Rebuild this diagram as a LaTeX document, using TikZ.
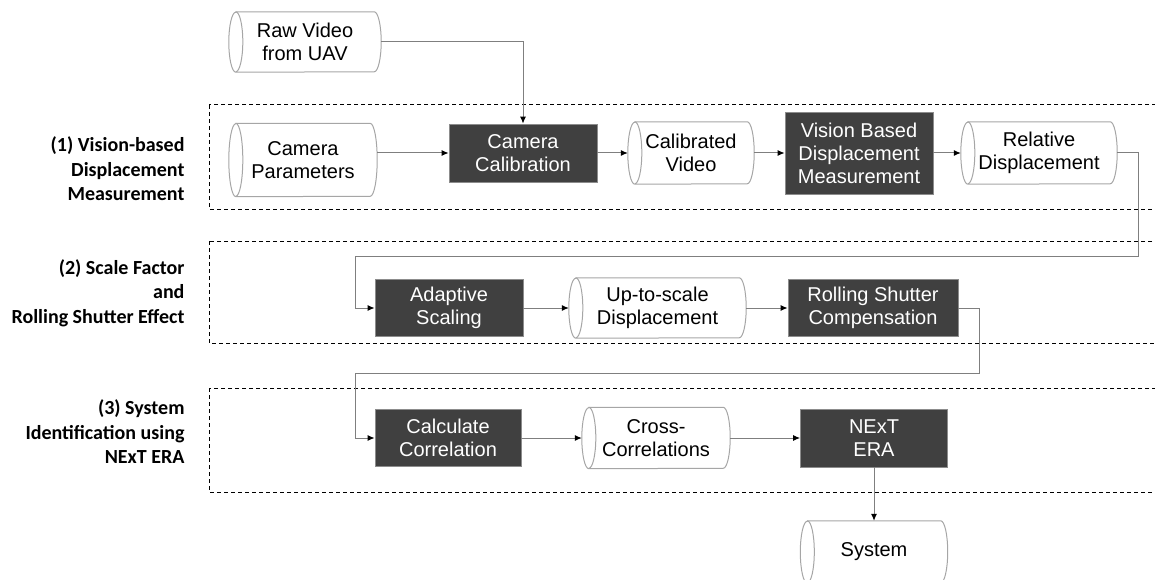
\documentclass[tikz,border=0pt]{standalone}
\usepackage{fontspec}
\setmainfont{Liberation Sans}
\newfontfamily\labfont{Carlito}
\usetikzlibrary{arrows.meta}
\definecolor{darkbox}{HTML}{404040}
\definecolor{boxedge}{HTML}{8C8C8C}
\definecolor{cyledge}{HTML}{A6A6A6}
\definecolor{linegray}{HTML}{7F7F7F}
\pgfdeclarelayer{bg}
\pgfsetlayers{bg,main}
\tikzset{
  procbox/.style={draw=boxedge, fill=darkbox, text=white, inner sep=0pt, align=center,
    font=\fontsize{20}{23}\selectfont, line width=0.8pt},
  cylnode/.style={inner sep=0pt, align=center, font=\fontsize{20}{23}\selectfont},
  conn/.style={draw=linegray, line width=1pt, -{Latex[length=7pt,width=6pt,black]}},
  groupbox/.style={draw=black, dash pattern=on 4pt off 3pt, line width=1pt},
  grouplabel/.style={anchor=east, align=right, font=\labfont\bfseries\fontsize{20}{24.5}\selectfont},
  cylline/.style={draw=cyledge, fill=white, line width=1pt}
}
\newcommand\drawcyl[2]{%
  \begin{pgfonlayer}{bg}
  \draw[cylline] ([xshift=7pt]#1.north west) -- ([xshift=-7pt]#1.north east)
     arc[start angle=90,end angle=-90,x radius=7pt,y radius=#2pt]
     -- ([xshift=7pt]#1.south west)
     arc[start angle=270,end angle=90,x radius=7pt,y radius=#2pt] -- cycle;
  \draw[draw=cyledge, line width=1pt] ([xshift=7pt]#1.north west)
     arc[start angle=90,end angle=-90,x radius=7pt,y radius=#2pt];
  \end{pgfonlayer}%
}
\begin{document}
\begin{tikzpicture}[x=1pt,y=-1pt]
\useasboundingbox (0,0) rectangle (1155,580);
\clip (0,0) rectangle (1155,580);

% group frames
\draw[groupbox] (209,105) rectangle (1170,209);
\draw[groupbox] (209,241) rectangle (1170,343);
\draw[groupbox] (209,388) rectangle (1170,492);

% group labels
\node[grouplabel] (lab1) at (188,169) {(1) Vision-based\\Displacement\\Measurement};
\node[grouplabel] (lab2) at (188,293) {(2) Scale Factor\\and\\Rolling Shutter Effect};
\node[grouplabel] (lab3) at (188,432) {(3) System\\Identification using\\NExT ERA};

% row 0
\node[cylnode, minimum width=152pt, minimum height=60pt] (raw) at (305,42) {Raw Video\\from UAV};
\drawcyl{raw}{30}

% row 1
\node[cylnode, minimum width=148pt, minimum height=73pt] (campar) at (303,160) {Camera\\Parameters};
\drawcyl{campar}{36.5}
\node[procbox, minimum width=148pt, minimum height=58pt] (cc) at (523,153) {Camera\\Calibration};
\node[cylnode, minimum width=126pt, minimum height=62pt] (calvid) at (691,153) {Calibrated\\Video};
\drawcyl{calvid}{31}
\node[procbox, minimum width=148pt, minimum height=82pt] (vbdm) at (859,153) {Vision Based\\Displacement\\Measurement};
\node[cylnode, minimum width=156pt, minimum height=62pt] (reldisp) at (1039,153) {Relative\\Displacement};
\drawcyl{reldisp}{31}

% row 2
\node[procbox, minimum width=148pt, minimum height=57pt] (adapt) at (449,308) {Adaptive\\Scaling};
\node[cylnode, minimum width=177pt, minimum height=60pt] (upto) at (657.5,308) {Up-to-scale\\Displacement};
\drawcyl{upto}{30}
\node[procbox, minimum width=170pt, minimum height=57pt] (rsc) at (873,308) {Rolling Shutter\\Compensation};

% row 3
\node[procbox, minimum width=146pt, minimum height=57pt] (calc) at (448,438) {Calculate\\Correlation};
\node[cylnode, minimum width=148pt, minimum height=61pt] (cross) at (656,438) {Cross-\\Correlations};
\drawcyl{cross}{30.5}
\node[procbox, minimum width=147pt, minimum height=58pt] (next) at (874,438) {NExT\\ERA};

% output
\node[cylnode, minimum width=147pt, minimum height=62pt] (system) at (874,552) {System};
\drawcyl{system}{31}

% connectors
\draw[conn] (raw.east) -| (cc.north);
\draw[conn] (campar.east |- cc.west) -- (cc.west);
\draw[conn] (cc.east) -- (calvid.west);
\draw[conn] (calvid.east) -- (vbdm.west);
\draw[conn] (vbdm.east) -- (reldisp.west);
\draw[conn] (reldisp.east) -- ++(21,0) -- ++(0,103) -- (355,256) |- (adapt.west);
\draw[conn] (adapt.east) -- (upto.west);
\draw[conn] (upto.east) -- (rsc.west);
\draw[conn] (rsc.east) -- ++(21,0) -- ++(0,65) -- (355,373) |- (calc.west);
\draw[conn] (calc.east) -- (cross.west);
\draw[conn] (cross.east) -- (next.west);
\draw[conn] (next.south) -- (system.north);
\end{tikzpicture}
\end{document}
